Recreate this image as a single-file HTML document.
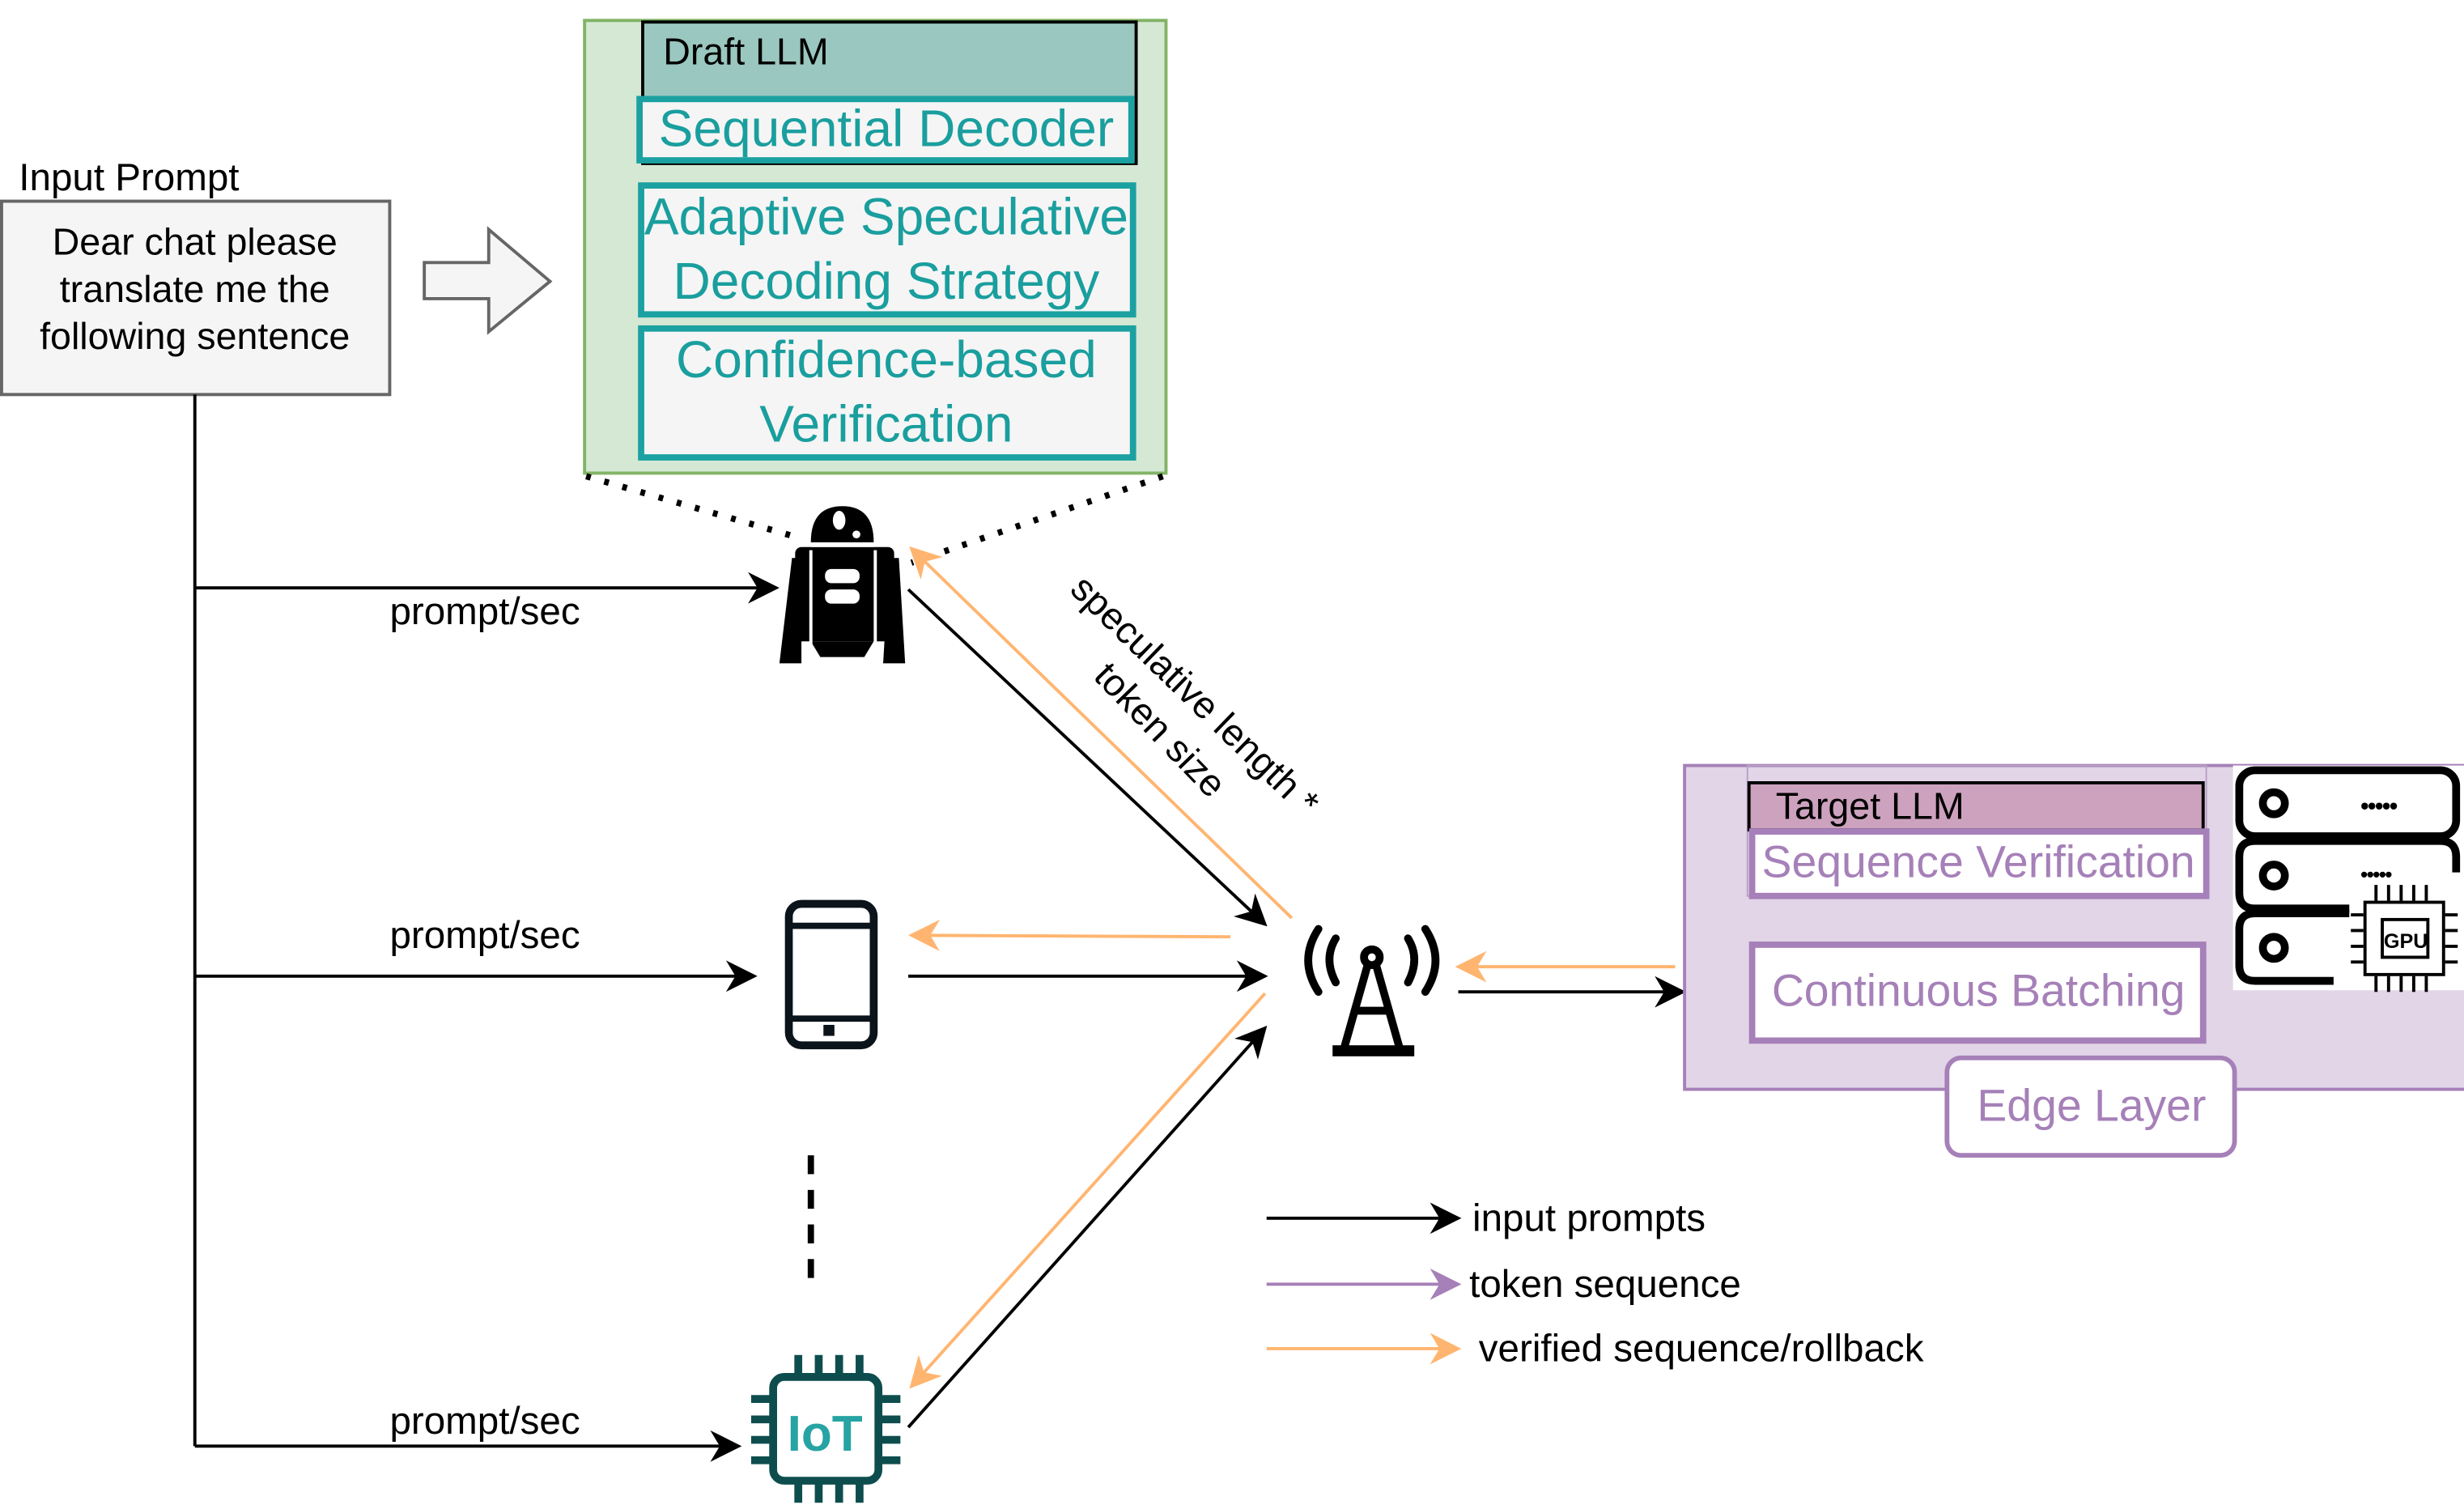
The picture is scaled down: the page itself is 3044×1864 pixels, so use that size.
<!DOCTYPE html>
<html><head><meta charset="utf-8"><style>
html,body{margin:0;padding:0;background:#fff;}
svg{display:block;}
text{font-family:"Liberation Sans",sans-serif;}
</style></head><body>
<svg width="3044" height="1864" viewBox="0 0 1568 960" preserveAspectRatio="none" xmlns="http://www.w3.org/2000/svg">
<defs>
<marker id="bk" viewBox="0 0 10 10" refX="9" refY="5" markerWidth="20" markerHeight="20" orient="auto" markerUnits="userSpaceOnUse"><path d="M0,0 L10,5 L0,10 L3,5 Z" fill="#000"/></marker>
<marker id="or" viewBox="0 0 10 10" refX="9" refY="5" markerWidth="20" markerHeight="20" orient="auto" markerUnits="userSpaceOnUse"><path d="M0,0 L10,5 L0,10 L3,5 Z" fill="#ffb570"/></marker>
<marker id="pu" viewBox="0 0 10 10" refX="9" refY="5" markerWidth="20" markerHeight="20" orient="auto" markerUnits="userSpaceOnUse"><path d="M0,0 L10,5 L0,10 L3,5 Z" fill="#a680b8"/></marker>
</defs>

<!-- Input prompt -->
<text x="12" y="121" font-size="24.5">Input Prompt</text>
<rect x="1" y="128" width="247" height="123" fill="#f5f5f5" stroke="#666" stroke-width="2"/>
<g font-size="24" text-anchor="middle">
<text x="124" y="162">Dear chat please</text>
<text x="124" y="192">translate me the</text>
<text x="124" y="222">following sentence</text>
</g>
<path d="M270,167 L311,167 L311,146 L350,179 L311,211 L311,190 L270,190 Z" fill="#f5f5f5" stroke="#666" stroke-width="2"/>

<!-- Draft LLM container -->
<rect x="372" y="13" width="370" height="288" fill="#d5e8d4" stroke="#82b366" stroke-width="2"/>
<rect x="409" y="14" width="314" height="90" fill="#9ac7bf" stroke="#000" stroke-width="2"/>
<text x="422" y="41" font-size="24">Draft LLM</text>
<rect x="407" y="63" width="313" height="39" fill="#f5f5f5" stroke="#1ba1a1" stroke-width="4"/>
<text x="564" y="93" font-size="33" fill="#1a9e9e" text-anchor="middle">Sequential Decoder</text>
<rect x="408" y="118" width="313" height="82" fill="#f5f5f5" stroke="#1ba1a1" stroke-width="4"/>
<text x="564" y="149" font-size="33" fill="#1a9e9e" text-anchor="middle">Adaptive Speculative</text>
<text x="564" y="190" font-size="33" fill="#1a9e9e" text-anchor="middle">Decoding Strategy</text>
<rect x="408" y="209" width="313" height="82" fill="#f5f5f5" stroke="#1ba1a1" stroke-width="4"/>
<text x="564" y="240" font-size="33" fill="#1a9e9e" text-anchor="middle">Confidence-based</text>
<text x="564" y="281" font-size="33" fill="#1a9e9e" text-anchor="middle">Verification</text>

<line x1="373" y1="303" x2="508" y2="342" stroke="#000" stroke-width="4" stroke-dasharray="3,9"/>
<line x1="740" y1="303" x2="580" y2="358" stroke="#000" stroke-width="4" stroke-dasharray="3,9"/>

<line x1="124" y1="251" x2="124" y2="920" stroke="#000" stroke-width="2"/>
<line x1="124" y1="374" x2="494" y2="374" stroke="#000" stroke-width="2" marker-end="url(#bk)"/>
<line x1="124" y1="621" x2="480" y2="621" stroke="#000" stroke-width="2" marker-end="url(#bk)"/>
<line x1="124" y1="920" x2="470" y2="920" stroke="#000" stroke-width="2" marker-end="url(#bk)"/>
<g font-size="24.5"><text x="248" y="397">prompt/sec</text><text x="248" y="603">prompt/sec</text><text x="248" y="912">prompt/sec</text></g>

<!-- robot -->
<g fill="#000">
<path d="M516,345 Q516,322 536,322 Q556,322 556,345 Z"/>
<rect x="506" y="348" width="63" height="60" rx="4"/>
<path d="M516,408 L522,418 L550,418 L556,408 Z"/>
<path d="M504,355 L510,355 L510,422 L496,422 Z"/>
<path d="M566,355 L572,355 L576,422 L562,422 Z"/>
</g>
<rect x="516" y="346" width="40" height="2" fill="#fff"/>
<line x1="516" y1="350" x2="516" y2="410" stroke="#fff" stroke-width="2"/>
<line x1="557" y1="350" x2="557" y2="410" stroke="#fff" stroke-width="2"/>
<ellipse cx="534" cy="331" rx="4" ry="6" fill="#fff"/>
<circle cx="545" cy="340" r="2.5" fill="#fff"/>
<rect x="525" y="362" width="22" height="9" rx="4" fill="#fff"/>
<rect x="525" y="375" width="22" height="9" rx="4" fill="#fff"/>

<!-- phone -->
<rect x="502" y="575" width="54" height="90" rx="8" fill="none" stroke="#0b131b" stroke-width="5"/>
<line x1="502" y1="589" x2="556" y2="589" stroke="#0b131b" stroke-width="4"/>
<line x1="502" y1="648" x2="556" y2="648" stroke="#0b131b" stroke-width="4"/>
<rect x="524" y="652" width="7" height="7" fill="#0b131b"/>

<line x1="516" y1="735" x2="516" y2="817" stroke="#000" stroke-width="4" stroke-dasharray="12,10"/>

<!-- IoT chip -->
<g stroke="#0e4d4d" stroke-width="5" fill="none">
<rect x="492" y="876" width="67" height="66" rx="7"/>
<path d="M508,876 V862 M521,876 V862 M534,876 V862 M547,876 V862"/>
<path d="M508,942 V956 M521,942 V956 M534,942 V956 M547,942 V956"/>
<path d="M492,890 H478 M492,903 H478 M492,916 H478 M492,929 H478"/>
<path d="M559,890 H573 M559,903 H573 M559,916 H573 M559,929 H573"/>
</g>
<text x="525" y="923" font-size="32" font-weight="bold" fill="#27a3a3" text-anchor="middle">IoT</text>

<!-- tower -->
<g stroke="#000" stroke-width="5" fill="none" stroke-linecap="round">
<circle cx="873" cy="609" r="5"/>
<path d="M870,615 L855,668 M876,615 L891,668 M862,643 H884"/>
<path d="M850,597 Q842,610 850,625 M896,597 Q904,610 896,625"/>
<path d="M839,591 Q826,611 839,631 M907,591 Q920,611 907,631"/>
</g>
<rect x="848" y="665" width="52" height="7" fill="#000"/>

<line x1="578" y1="375" x2="805" y2="588" stroke="#000" stroke-width="2" marker-end="url(#bk)"/>
<line x1="822" y1="584" x2="580" y2="349" stroke="#ffb570" stroke-width="2" marker-end="url(#or)"/>
<line x1="783" y1="596" x2="580" y2="595" stroke="#ffb570" stroke-width="2" marker-end="url(#or)"/>
<line x1="578" y1="621" x2="805" y2="621" stroke="#000" stroke-width="2" marker-end="url(#bk)"/>
<line x1="805" y1="632" x2="580" y2="882" stroke="#ffb570" stroke-width="2" marker-end="url(#or)"/>
<line x1="578" y1="908" x2="805" y2="654" stroke="#000" stroke-width="2" marker-end="url(#bk)"/>
<line x1="1066" y1="615" x2="928" y2="615" stroke="#ffb570" stroke-width="2" marker-end="url(#or)"/>
<line x1="928" y1="631" x2="1071" y2="631" stroke="#000" stroke-width="2" marker-end="url(#bk)"/>

<text font-size="24" transform="translate(680,376) rotate(44)">speculative length *</text>
<text font-size="24" transform="translate(695,431) rotate(46)">token size</text>

<!-- Edge layer -->
<rect x="1072" y="487" width="500" height="206" fill="#e1d5e7" stroke="#a680b8" stroke-width="2"/>
<rect x="1112" y="487" width="292" height="83" fill="none" stroke="#b9a0c6" stroke-width="1"/>
<rect x="1113" y="498" width="289" height="30" fill="#cda2be" stroke="#000" stroke-width="2"/>
<text x="1130" y="521" font-size="24">Target LLM</text>
<rect x="1115" y="529" width="289" height="41" fill="#fff" stroke="#a680b8" stroke-width="4"/>
<text x="1259" y="558" font-size="28.5" fill="#a680b8" text-anchor="middle">Sequence Verification</text>
<rect x="1115" y="601" width="287" height="61" fill="#fff" stroke="#a680b8" stroke-width="4"/>
<text x="1259" y="640" font-size="28.5" fill="#a680b8" text-anchor="middle">Continuous Batching</text>
<rect x="1239" y="673" width="183" height="62" rx="9" fill="#fff" stroke="#a680b8" stroke-width="3"/>
<text x="1331" y="713" font-size="28.5" fill="#a680b8" text-anchor="middle">Edge Layer</text>

<!-- server icon -->
<rect x="1421" y="487" width="147" height="143" fill="#fff"/>
<g stroke="#000" stroke-width="5" fill="none">
<rect x="1425" y="490" width="138" height="42" rx="10"/>
<path d="M1563,555 V545 Q1563,535 1553,535 H1435 Q1425,535 1425,545 V568 Q1425,578 1435,578 H1495"/>
<path d="M1495,581 H1435 Q1425,581 1425,591 V614 Q1425,624 1435,624 H1485"/>
<circle cx="1447" cy="511" r="7"/><circle cx="1447" cy="557" r="7"/><circle cx="1447" cy="603" r="7"/>
</g>
<g fill="#000"><text x="1502" y="518" font-size="16" letter-spacing="-1">•••••</text><text x="1502" y="561" font-size="14" letter-spacing="-1">•••••</text></g>
<g stroke="#000" stroke-width="2" fill="none">
<rect x="1505" y="574" width="50" height="46"/>
<rect x="1516" y="585" width="29" height="24"/>
<path d="M1512,563 v10 M1520,563 v10 M1528,563 v10 M1536,563 v10 M1544,563 v10 M1512,621 v10 M1520,621 v10 M1528,621 v10 M1536,621 v10 M1544,621 v10 M1496,582 h8 M1496,592 h8 M1496,602 h8 M1496,612 h8 M1556,582 h8 M1556,592 h8 M1556,602 h8 M1556,612 h8"/>
</g>
<text x="1531" y="603" font-size="13" font-weight="bold" text-anchor="middle">GPU</text>

<!-- legend -->
<line x1="806" y1="775" x2="928" y2="775" stroke="#000" stroke-width="2" marker-end="url(#bk)"/>
<text x="937" y="783" font-size="24.5">input prompts</text>
<line x1="806" y1="817" x2="928" y2="817" stroke="#a680b8" stroke-width="2" marker-end="url(#pu)"/>
<text x="935" y="825" font-size="24.5">token sequence</text>
<line x1="806" y1="858" x2="928" y2="858" stroke="#ffb570" stroke-width="2" marker-end="url(#or)"/>
<text x="941" y="866" font-size="24.5">verified sequence/rollback</text>
</svg>
</body></html>
